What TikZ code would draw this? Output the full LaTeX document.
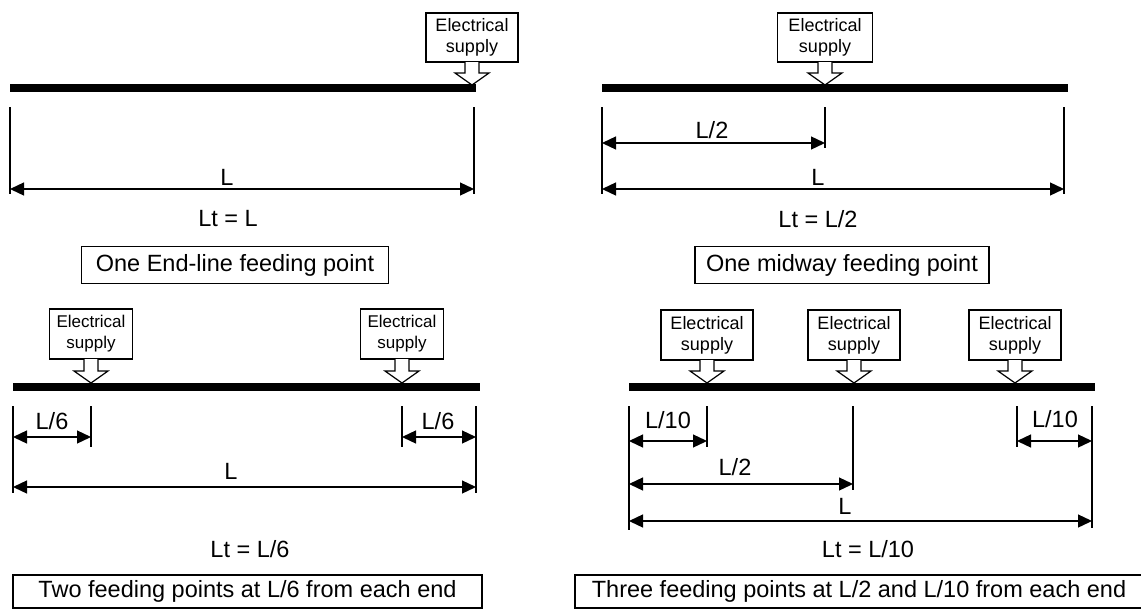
\documentclass[tikz,border=0pt]{standalone}
\usepackage{fontspec}
\setmainfont{Liberation Sans}
\usetikzlibrary{arrows.meta}
\tikzset{
  supply/.style={draw,line width=1.2pt,fill=white,align=center,inner sep=1pt},
  supplyarrow/.style={draw,line width=1.2pt,fill=white},
  bar/.style={line width=7.5pt},
  extline/.style={line width=1.3pt},
  dimarrow/.style={line width=1.3pt,{Triangle[length=14pt,width=13pt]}-{Triangle[length=14pt,width=13pt]}},
  lbl/.style={font=\fontsize{23.5}{27}\selectfont,inner sep=0pt},
  capbox/.style={draw,line width=1.3pt,font=\fontsize{23.5}{27}\selectfont,inner sep=0pt}
}
% name, x, box top y, box bottom y, tip y, width, font size
\newcommand\supplybox[7]{%
  \node[supply,minimum width=#6pt,minimum height={#4-#3},font=\fontsize{#7}{21}\selectfont] (#1) at (#2,{(#3+#4)/2}) {Electrical\\supply};
  \draw[supplyarrow] (#2-7,#4) -- (#2-7,#5-12) -- (#2-17,#5-12) -- (#2,#5) -- (#2+17,#5-12) -- (#2+7,#5-12) -- (#2+7,#4);
  \coordinate (#1-tip) at (#2,#5);
}
\begin{document}
\begin{tikzpicture}[x=1pt,y=-1pt]
\useasboundingbox[fill=white] (0,0) rectangle (1141,608);

% ---------- Panel 1 ----------
\supplybox{s1}{472}{13}{62}{85}{92}{18}
\coordinate (b1l) at (10,88); \coordinate (b1r) at (476,88);
\draw[bar] (b1l) -- (b1r);
\coordinate (e1a) at (10,107); \coordinate (e1b) at (10,194);
\coordinate (e1c) at (474,107); \coordinate (e1d) at (474,194);
\draw[extline] (e1a) -- (e1b);
\draw[extline] (e1c) -- (e1d);
\coordinate (d1l) at (10,189); \coordinate (d1r) at (474,189);
\draw[dimarrow] (d1l) -- (d1r);
\node[lbl] (l1) at (227,177) {L};
\node[lbl] (lt1) at (228,219) {Lt = L};
\node[capbox,minimum width=307pt,minimum height=37pt] (c1) at (235,265) {One End-line feeding point};

% ---------- Panel 2 ----------
\supplybox{s2}{825}{13}{62}{85}{95}{18}
\coordinate (b2l) at (602,88); \coordinate (b2r) at (1068,88);
\draw[bar] (b2l) -- (b2r);
\coordinate (e2a) at (602,107); \coordinate (e2b) at (602,194);
\coordinate (e2c) at (825,107); \coordinate (e2d) at (825,148);
\coordinate (e2e) at (1064,107); \coordinate (e2f) at (1064,194);
\draw[extline] (e2a) -- (e2b);
\draw[extline] (e2c) -- (e2d);
\draw[extline] (e2e) -- (e2f);
\coordinate (d2a) at (602,143); \coordinate (d2b) at (825,143);
\draw[dimarrow] (d2a) -- (d2b);
\coordinate (d2c) at (602,189); \coordinate (d2d) at (1064,189);
\draw[dimarrow] (d2c) -- (d2d);
\node[lbl] (l2a) at (712,130) {L/2};
\node[lbl] (l2b) at (818,177) {L};
\node[lbl] (lt2) at (818,219) {Lt = L/2};
\node[capbox,minimum width=294pt,minimum height=37pt] (c2) at (842,265) {One midway feeding point};

% ---------- Panel 3 ----------
\supplybox{s3a}{91}{309}{359}{383}{83}{17}
\supplybox{s3b}{402}{309}{359}{383}{83}{17}
\coordinate (b3l) at (13,387); \coordinate (b3r) at (480,387);
\draw[bar] (b3l) -- (b3r);
\coordinate (e3a) at (13,406); \coordinate (e3b) at (13,493);
\coordinate (e3c) at (91,406); \coordinate (e3d) at (91,447);
\coordinate (e3e) at (402,406); \coordinate (e3f) at (402,447);
\coordinate (e3g) at (476,406); \coordinate (e3h) at (476,493);
\draw[extline] (e3a) -- (e3b);
\draw[extline] (e3c) -- (e3d);
\draw[extline] (e3e) -- (e3f);
\draw[extline] (e3g) -- (e3h);
\coordinate (d3a) at (13,437); \coordinate (d3b) at (91,437);
\draw[dimarrow] (d3a) -- (d3b);
\coordinate (d3c) at (402,437); \coordinate (d3d) at (476,437);
\draw[dimarrow] (d3c) -- (d3d);
\coordinate (d3e) at (13,487); \coordinate (d3f) at (476,487);
\draw[dimarrow] (d3e) -- (d3f);
\node[lbl] (l3a) at (52,421) {L/6};
\node[lbl] (l3b) at (438,421) {L/6};
\node[lbl] (l3c) at (231,471) {L};
\node[lbl] (lt3) at (250,549) {Lt = L/6};
\node[capbox,minimum width=469pt,minimum height=33pt] (c3) at (247.5,591.5) {Two feeding points at L/6 from each end};

% ---------- Panel 4 ----------
\supplybox{s4a}{707}{310}{360}{383}{92}{18}
\supplybox{s4b}{854}{310}{360}{383}{92}{18}
\supplybox{s4c}{1015}{310}{360}{383}{92}{18}
\coordinate (b4l) at (629,387); \coordinate (b4r) at (1095,387);
\draw[bar] (b4l) -- (b4r);
\coordinate (e4a) at (629,406); \coordinate (e4b) at (629,530);
\coordinate (e4c) at (707,406); \coordinate (e4d) at (707,447);
\coordinate (e4e) at (853,406); \coordinate (e4f) at (853,490);
\coordinate (e4g) at (1017,406); \coordinate (e4h) at (1017,447);
\coordinate (e4i) at (1092,406); \coordinate (e4j) at (1092,528);
\draw[extline] (e4a) -- (e4b);
\draw[extline] (e4c) -- (e4d);
\draw[extline] (e4e) -- (e4f);
\draw[extline] (e4g) -- (e4h);
\draw[extline] (e4i) -- (e4j);
\coordinate (d4a) at (629,441); \coordinate (d4b) at (707,441);
\draw[dimarrow] (d4a) -- (d4b);
\coordinate (d4c) at (1017,441); \coordinate (d4d) at (1092,441);
\draw[dimarrow] (d4c) -- (d4d);
\coordinate (d4e) at (629,484); \coordinate (d4f) at (853,484);
\draw[dimarrow] (d4e) -- (d4f);
\coordinate (d4g) at (629,521); \coordinate (d4h) at (1092,521);
\draw[dimarrow] (d4g) -- (d4h);
\node[lbl] (l4a) at (668,420) {L/10};
\node[lbl] (l4b) at (1055,419) {L/10};
\node[lbl] (l4c) at (735,467) {L/2};
\node[lbl] (l4d) at (845,506) {L};
\node[lbl] (lt4) at (868,549) {Lt = L/10};
\node[capbox,minimum width=568pt,minimum height=33pt] (c4) at (859,591.5) {Three feeding points at L/2 and L/10 from each end};
\end{tikzpicture}
\end{document}
